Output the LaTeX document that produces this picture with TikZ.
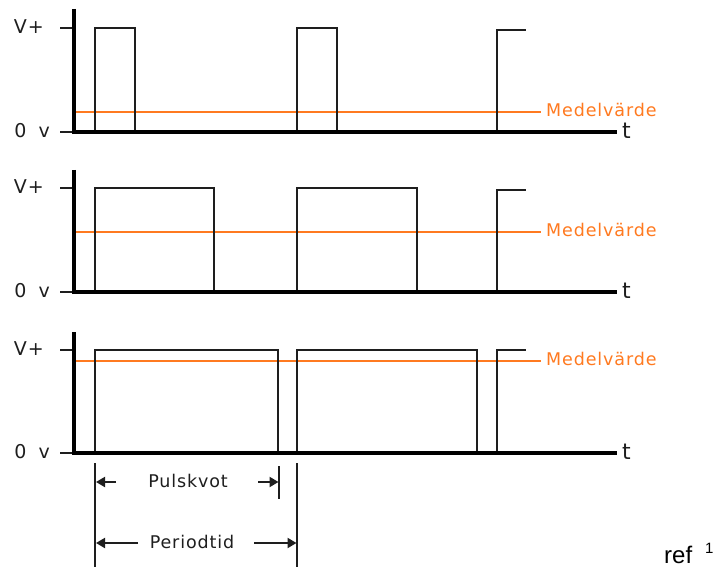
\documentclass[tikz,border=0pt]{standalone}
\usepackage{fontspec}
\usetikzlibrary{arrows.meta}
\newfontfamily\lblfont[LetterSpace=5]{DejaVu Sans}
\newfontfamily\tfont{DejaVu Sans}
\newfontfamily\reffont{Liberation Sans}
\definecolor{meanorange}{RGB}{255,122,32}
\definecolor{sigline}{RGB}{30,30,30}
\tikzset{
  axisline/.style={line width=3.4pt, black},
  tickline/.style={line width=2pt, sigline},
  sigpath/.style={line width=2pt, sigline},
  meanline/.style={line width=2pt, meanorange},
  dimline/.style={line width=2pt, sigline},
  dimarrow/.style={line width=2pt, sigline, -{Triangle[length=9pt,width=10pt]}},
  axlabel/.style={font=\lblfont\fontsize{19}{22}\selectfont, text=sigline, inner sep=0pt},
  tlabel/.style={font=\tfont\fontsize{22}{24}\selectfont, text=sigline, inner sep=0pt, anchor=west},
  meanlabel/.style={font=\lblfont\fontsize{17.5}{20}\selectfont, text=meanorange, inner sep=0pt, anchor=west},
  dimlabel/.style={font=\lblfont\fontsize{17.5}{20}\selectfont, text=sigline, inner sep=0pt},
}
\begin{document}
\begin{tikzpicture}[x=1pt,y=-1pt]
\useasboundingbox[fill=white] (0,0) rectangle (718,567);

% ---------- Plot 1 ----------
\coordinate (a1top) at (74,9);
\coordinate (a1org) at (74,132);
\coordinate (a1end) at (617,132);
\draw[meanline] (74,112) -- (541,112);
\draw[sigpath] (95,132) -- (95,28) -- (135,28) -- (135,132);
\draw[sigpath] (297,132) -- (297,28) -- (337,28) -- (337,132);
\draw[sigpath] (497,132) -- (497,30) -- (526,30);
\draw[tickline] (60,28) -- (74,28);
\draw[tickline] (60,132) -- (74,132);
\draw[axisline] (a1top) -- (a1org) -- (a1end);
\node[axlabel, anchor=east] (vp1) at (44,27) {V+};
\node[axlabel, anchor=east] (zv1) at (50,131) {0\hspace{5pt} v};
\node[tlabel] (t1) at (622,131) {t};
\node[meanlabel] (m1) at (546,110) {Medelvärde};

% ---------- Plot 2 ----------
\coordinate (a2top) at (74,170);
\coordinate (a2org) at (74,292);
\coordinate (a2end) at (617,292);
\draw[meanline] (74,232) -- (541,232);
\draw[sigpath] (95,292) -- (95,188) -- (214,188) -- (214,292);
\draw[sigpath] (297,292) -- (297,188) -- (417,188) -- (417,292);
\draw[sigpath] (497,292) -- (497,190) -- (526,190);
\draw[tickline] (60,188) -- (74,188);
\draw[tickline] (60,292) -- (74,292);
\draw[axisline] (a2top) -- (a2org) -- (a2end);
\node[axlabel, anchor=east] (vp2) at (44,187) {V+};
\node[axlabel, anchor=east] (zv2) at (50,291) {0\hspace{5pt} v};
\node[tlabel] (t2) at (622,291) {t};
\node[meanlabel] (m2) at (546,230) {Medelvärde};

% ---------- Plot 3 ----------
\coordinate (a3top) at (74,332);
\coordinate (a3org) at (74,453);
\coordinate (a3end) at (617,453);
\draw[meanline] (74,361) -- (541,361);
\draw[sigpath] (95,453) -- (95,350) -- (278,350) -- (278,453);
\draw[sigpath] (297,453) -- (297,350) -- (477,350) -- (477,453);
\draw[sigpath] (497,453) -- (497,350) -- (526,350);
\draw[tickline] (60,350) -- (74,350);
\draw[tickline] (60,453) -- (74,453);
\draw[axisline] (a3top) -- (a3org) -- (a3end);
\node[axlabel, anchor=east] (vp3) at (44,349) {V+};
\node[axlabel, anchor=east] (zv3) at (50,452) {0\hspace{5pt} v};
\node[tlabel] (t3) at (622,452) {t};
\node[meanlabel] (m3) at (546,359) {Medelvärde};

% ---------- Dimensions ----------
\coordinate (d1t) at (95,463);
\coordinate (d1b) at (95,567);
\coordinate (d2t) at (297,463);
\coordinate (d2b) at (297,567);
\coordinate (d3t) at (279,466);
\coordinate (d3b) at (279,499);
\draw[dimline] (d1t) -- (d1b);
\draw[dimline] (d2t) -- (d2b);
\draw[dimline] (d3t) -- (d3b);

\node[dimlabel] (puls) at (188,481) {Pulskvot};
\node[dimlabel] (per) at (192,542) {Periodtid};
\coordinate (p1a) at (116,482);
\coordinate (p1b) at (96,482);
\coordinate (p2a) at (258,482);
\coordinate (p2b) at (278.5,482);
\coordinate (q1a) at (138,543);
\coordinate (q1b) at (96,543);
\coordinate (q2a) at (254,543);
\coordinate (q2b) at (296.5,543);
\draw[dimarrow] (p1a) -- (p1b);
\draw[dimarrow] (p2a) -- (p2b);
\draw[dimarrow] (q1a) -- (q1b);
\draw[dimarrow] (q2a) -- (q2b);

% ---------- ref ----------
\node[font=\reffont\fontsize{24}{28}\selectfont, inner sep=0pt, anchor=base west] (ref) at (664,563) {ref};
\node[font=\reffont\fontsize{15}{18}\selectfont, inner sep=0pt, anchor=base west] (refsup) at (705,553) {1};
\end{tikzpicture}
\end{document}
